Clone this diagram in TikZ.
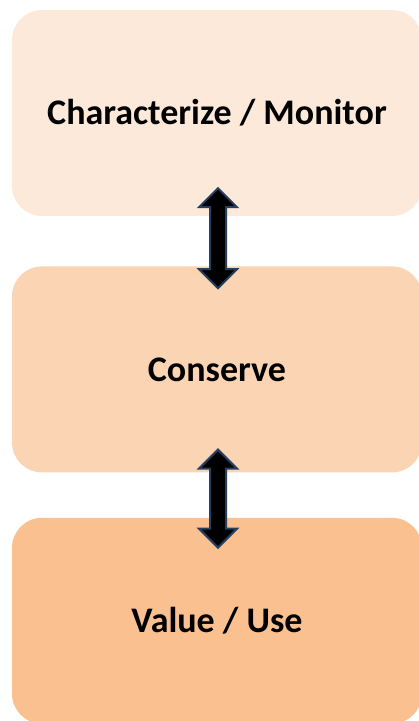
\documentclass[tikz,border=0pt]{standalone}
\usepackage{fontspec}
\setmainfont{Carlito}
\usepackage{xcolor}
\usetikzlibrary{calc,positioning}
\definecolor{stageA}{HTML}{FDE9D9}
\definecolor{stageB}{HTML}{FBD4B4}
\definecolor{stageC}{HTML}{FAC090}
\definecolor{arrowrim}{HTML}{243F60}
\tikzset{
  stage box/.style={rounded corners=30pt,minimum width=410pt,minimum height=206pt,
    inner sep=0pt,font=\fontsize{36}{42}\selectfont\bfseries,text=black},
  block arrow/.style={fill=black,draw=arrowrim,line width=2pt,line join=miter}
}
% vertical double block arrow between two tips
\newcommand{\TwoWayArrow}[2]{%
  \draw[block arrow] let \p1=(#1), \p2=(#2) in
    (\x1,\y1) -- (\x1+19pt,\y1-19pt) -- (\x1+8pt,\y1-19pt) -- (\x1+8pt,\y2+19pt)
    -- (\x1+19pt,\y2+19pt) -- (\x2,\y2) -- (\x1-19pt,\y2+19pt) -- (\x1-8pt,\y2+19pt)
    -- (\x1-8pt,\y1-19pt) -- (\x1-19pt,\y1-19pt) -- cycle;}

\begin{document}
\begin{tikzpicture}[x=1pt,y=1pt]
  \useasboundingbox (0,0) rectangle (419,721);
  \node[stage box,fill=stageA] (charmon) at (217,608) {Characterize / Monitor};
  \node[stage box,fill=stageB,below=50pt of charmon] (conserve) {Conserve};
  \node[stage box,fill=stageC,below=45pt of conserve] (valueuse) {Value / Use};

  \coordinate (t1) at ($(charmon.south)+(1pt,28pt)$);
  \coordinate (b1) at ($(conserve.north)+(1pt,-22pt)$);
  \coordinate (t2) at ($(conserve.south)+(1pt,23pt)$);
  \coordinate (b2) at ($(valueuse.north)+(1pt,-30pt)$);
  \TwoWayArrow{t1}{b1}
  \TwoWayArrow{t2}{b2}
\end{tikzpicture}
\end{document}
